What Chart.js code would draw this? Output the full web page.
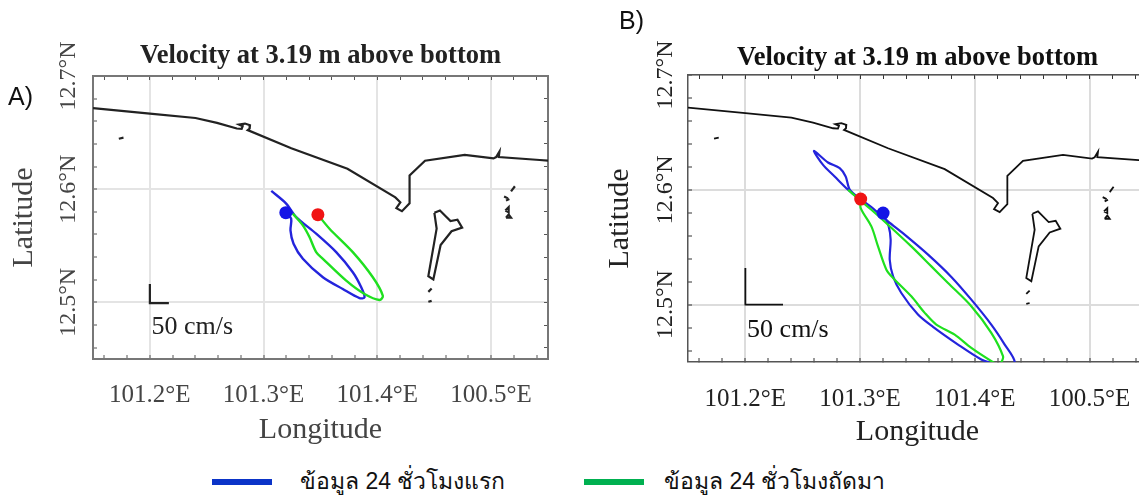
<!DOCTYPE html>
<html>
<head>
<meta charset="utf-8">
<script src="https://cdn.jsdelivr.net/npm/chart.js@4"></script>
<style>
    html, body { margin: 0; padding: 0; background: #fff; width: 1139px; height: 497px; overflow: hidden; }
    canvas { position: absolute; top: 0; }
    #panelA { left: 0; filter: blur(0.7px); }
    #panelB { left: 600px; filter: blur(0.25px); }
    .tag, .key { position: absolute; font-family: "Liberation Sans", Arial, sans-serif; color: #111; white-space: nowrap; }
    .tag { font-size: 25px; line-height: 28px; }
    .key { font-size: 23px; top: 465px; line-height: 32px; }
    .swatch { position: absolute; top: 479px; width: 60px; height: 6px; }
</style>
</head>
<body>
<canvas id="panelA" width="565" height="460"></canvas>
<canvas id="panelB" width="564" height="460"></canvas>
<div class="tag" style="left:8px;top:82px">A)</div>
<div class="tag" style="left:619px;top:6px">B)</div>
<div class="swatch" style="left:212px;background:#0b34c8"></div>
<div class="key" style="left:300px">ข้อมูล 24 ชั่วโมงแรก</div>
<div class="swatch" style="left:584px;background:#00b050"></div>
<div class="key" style="left:664px">ข้อมูล 24 ชั่วโมงถัดมา</div>
<script>
// axes
const lonMin = 101.15, lonMax = 101.55;
const latMin = 12.45, latMax = 12.7;
const lonTicks = [101.2, 101.3, 101.4, 101.5];
const lonTickLabels = ["101.2°E", "101.3°E", "101.4°E", "100.5°E"]; // 100.5 is what the figure prints
const latTicks = [12.5, 12.6, 12.7];
const latTickLabels = ["12.5°N", "12.6°N", "12.7°N"];

// map outline, same in both panels
const coastLon = [101.15, 101.2, 101.2401, 101.259, 101.2764, 101.2807, 101.2816, 101.2784, 101.2836, 101.288, 101.2877, 101.286, 101.3243, 101.3737, 101.4158, 101.4202, 101.4167, 101.4216, 101.4283, 101.4283, 101.4419, 101.4768, 101.5021, 101.5044, 101.5073, 101.5067, 101.5427, 101.55];
const coastLat = [12.6716, 12.6667, 12.6629, 12.6586, 12.6536, 12.6533, 12.6557, 12.6571, 12.658, 12.6565, 12.6536, 12.6522, 12.6362, 12.618, 12.5928, 12.5884, 12.5832, 12.5806, 12.5875, 12.6122, 12.6252, 12.6304, 12.6272, 12.6284, 12.6333, 12.6284, 12.6258, 12.6252];
const islandLon = [101.4501, 101.455, 101.4643, 101.4704, 101.4745, 101.4652, 101.4556, 101.4492, 101.4448, 101.4521, 101.4501];
const islandLat = [12.5791, 12.5812, 12.5719, 12.573, 12.5661, 12.5629, 12.5507, 12.5203, 12.5232, 12.5652, 12.5791];
const speckLons = [[101.1727, 101.1768], [101.4448, 101.4477], [101.4448, 101.4477], [101.5175, 101.5209], [101.5114, 101.5148], [101.5131, 101.516], [101.5125, 101.5154, 101.5154, 101.5125], [101.5131, 101.5175, 101.5154, 101.5131]];
const speckLats = [[12.6446, 12.6455], [12.5093, 12.5122], [12.5006, 12.5014], [12.598, 12.6026], [12.5936, 12.5919], [12.5899, 12.5913], [12.5812, 12.5841, 12.5797, 12.5812], [12.5748, 12.5748, 12.5777, 12.5748]];

// panel A tracks
const blueALon = [101.3195, 101.3242, 101.3236, 101.3263, 101.3345, 101.3521, 101.3696, 101.3843, 101.3887, 101.3858, 101.3784, 101.3638, 101.3462, 101.3286, 101.3198, 101.3067];
const blueALat = [12.5793, 12.574, 12.5636, 12.5518, 12.5385, 12.5222, 12.5118, 12.5038, 12.5044, 12.5133, 12.5266, 12.5444, 12.5607, 12.5754, 12.5873, 12.5985];
const greenALon = [101.3477, 101.3579, 101.3784, 101.396, 101.4048, 101.4019, 101.3887, 101.3726, 101.3521, 101.3462, 101.3403, 101.3345, 101.3257];
const greenALat = [12.5775, 12.5651, 12.5444, 12.5222, 12.5059, 12.5021, 12.5074, 12.5192, 12.5385, 12.5444, 12.5577, 12.568, 12.5784];
const startALon = [101.3195, 101.3477];
const startALat = [12.5793, 12.5775];
const barALon = [101.2, 101.2, 101.2167];
const barALat = [12.5163, 12.4994, 12.4994];

// panel B tracks
const blueBLon = [101.32, 101.3249, 101.3266, 101.3258, 101.3287, 101.3359, 101.3504, 101.3635, 101.3853, 101.4056, 101.4158, 101.426, 101.4347, 101.426, 101.4143, 101.3969, 101.3795, 101.3592, 101.3388, 101.3243, 101.3098, 101.2915, 101.2874, 101.2822, 101.272, 101.2598, 101.2677, 101.2778, 101.2895, 101.2982];
const blueBLat = [12.5797, 12.5681, 12.5565, 12.5391, 12.5246, 12.5101, 12.4913, 12.4806, 12.4652, 12.4522, 12.4487, 12.4449, 12.4499, 12.4652, 12.4826, 12.5043, 12.5241, 12.5435, 12.5609, 12.5725, 12.5849, 12.5994, 12.6116, 12.6188, 12.6238, 12.6339, 12.6217, 12.6116, 12.6, 12.5928];
const greenBLon = [101.3005, 101.3005, 101.3098, 101.3156, 101.3229, 101.3287, 101.3446, 101.3563, 101.3664, 101.3824, 101.3969, 101.4158, 101.4202, 101.4231, 101.4245, 101.4143, 101.3969, 101.3766, 101.3621, 101.3446, 101.3243, 101.3098, 101.2895];
const greenBLat = [12.5919, 12.5841, 12.5681, 12.5507, 12.5304, 12.5232, 12.5072, 12.4928, 12.4826, 12.4739, 12.4623, 12.4499, 12.4478, 12.4499, 12.4551, 12.4754, 12.4986, 12.5188, 12.5333, 12.5507, 12.5696, 12.5826, 12.6];
const startBLon = [101.32, 101.3005];
const startBLat = [12.5797, 12.5919];
const barBLon = [101.2, 101.2, 101.2328];
const barBLat = [12.5319, 12.5, 12.5];

const serif = '"Liberation Serif", "Times New Roman", serif';

function zip(lons, lats) {
    return lons.map((lon, i) => ({ x: lon, y: lats[i] }));
}

// a tick every 0.02 degrees, labels only on the majors
function minorTicks(from, to) {
    const out = [];
    for (let i = Math.ceil(from * 50); i <= Math.floor(to * 50); i++) {
        out.push(+(i / 50).toFixed(2));
    }
    return out;
}

function outline(lons, lats, look) {
    return { data: zip(lons, lats), showLine: true, pointRadius: 0, borderColor: look.ink, borderWidth: look.coastWidth };
}

function track(lons, lats, color, width) {
    return { data: zip(lons, lats), showLine: true, pointRadius: 0, tension: 0.3, borderColor: color, borderWidth: width };
}

function axis(position, majors, ticks, look, size, extra) {
    return Object.assign({
        type: 'linear',
        position: position,
        // fresh tick objects per scale, every scale writes its own labels on them
        afterBuildTicks: scale => { scale.ticks = ticks.map(v => ({ value: v })); },
        afterFit: scale => {
            if (scale.isHorizontal()) scale.height = size; else scale.width = size;
        },
        border: { color: look.frame, width: look.frameWidth },
        grid: {
            color: look.gridColor,
            lineWidth: ctx => (ctx.tick && majors.includes(ctx.tick.value) ? 2 : 0),
            tickColor: look.tick,
            tickWidth: 1,
            tickLength: -4,
        },
        ticks: { display: false, autoSkip: false },
    }, extra);
}

function drawPanel(id, p) {
    const look = p.look;
    const lonAll = minorTicks(lonMin, lonMax);
    const latAll = minorTicks(latMin, latMax);
    const labelFor = (majors, labels) => value => {
        const i = majors.indexOf(value);
        return i < 0 ? '' : labels[i];
    };

    const barLabel = {
        id: 'barLabel',
        afterDatasetsDraw(chart) {
            const c = chart.ctx;
            c.save();
            c.font = '26px ' + serif;
            c.fillStyle = look.ink;
            c.textBaseline = 'middle';
            c.fillText('50 cm/s', chart.scales.x.getPixelForValue(p.barText[0]), chart.scales.y.getPixelForValue(p.barText[1]));
            c.restore();
        },
    };

    new Chart(document.getElementById(id), {
        type: 'scatter',
        data: {
            datasets: [
                {
                    data: zip(p.startLon, p.startLat),
                    pointRadius: 6.5,
                    pointBackgroundColor: ['#1414e6', '#f01414'],
                    pointBorderWidth: 0,
                },
                track(p.greenLon, p.greenLat, '#1fe01f', look.trackWidth),
                track(p.blueLon, p.blueLat, '#2424dc', look.trackWidth),
                outline(coastLon, coastLat, look),
                outline(islandLon, islandLat, look),
                ...speckLons.map((lons, i) => outline(lons, speckLats[i], look)),
                outline(p.barLon, p.barLat, look),
            ],
        },
        options: {
            responsive: false,
            animation: false,
            layout: { padding: { right: 17 } },
            plugins: {
                legend: { display: false },
                tooltip: { enabled: false },
                title: {
                    display: true,
                    text: 'Velocity at 3.19 m above bottom',
                    fullSize: false,
                    color: look.ink,
                    font: { family: serif, size: 26.5, weight: 'bold', lineHeight: 1.2 },
                    padding: p.titlePadding,
                },
            },
            scales: {
                x: axis('bottom', lonTicks, lonAll, look, p.xAxisSize, {
                    min: lonMin, max: lonMax,
                    title: { display: true, text: 'Longitude', color: look.label, padding: p.xTitlePadding, font: { family: serif, size: 30 } },
                    ticks: {
                        autoSkip: false, maxRotation: 0, padding: p.xTickPadding, color: look.label,
                        font: { family: serif, size: 25 },
                        callback: labelFor(lonTicks, lonTickLabels),
                    },
                }),
                y: axis('left', latTicks, latAll, look, p.yAxisSize, {
                    min: latMin, max: latMax,
                    title: { display: true, text: 'Latitude', color: look.label, padding: p.yTitlePadding, font: { family: serif, size: 30 } },
                    ticks: {
                        autoSkip: false, minRotation: 90, maxRotation: 90, crossAlign: 'center', padding: p.yTickPadding, color: look.label,
                        font: { family: serif, size: 24 },
                        callback: labelFor(latTicks, latTickLabels),
                    },
                }),
                xTop: axis('top', lonTicks, lonAll, look, 0, { axis: 'x', min: lonMin, max: lonMax, grid: { drawOnChartArea: false, tickColor: look.tick, tickLength: -4 } }),
                yRight: axis('right', latTicks, latAll, look, 0, { axis: 'y', min: latMin, max: latMax, grid: { drawOnChartArea: false, tickColor: look.tick, tickLength: -4 } }),
            },
        },
        plugins: [barLabel],
    });
}

drawPanel('panelA', {
    look: { ink: '#222', label: '#444', frame: '#777', frameWidth: 2, tick: '#555', gridColor: '#e4e4e4', coastWidth: 2.2, trackWidth: 2.4 },
    blueLon: blueALon, blueLat: blueALat, greenLon: greenALon, greenLat: greenALat,
    startLon: startALon, startLat: startALat, barLon: barALon, barLat: barALat,
    barText: [101.2015, 12.478],
    titlePadding: { top: 40, bottom: 4.2 },
    xAxisSize: 101, yAxisSize: 93,
    xTickPadding: 25, yTickPadding: -6.5,
    xTitlePadding: 12, yTitlePadding: 6,
});

drawPanel('panelB', {
    look: { ink: '#111', label: '#222', frame: '#555', frameWidth: 1.5, tick: '#333', gridColor: '#dcdcdc', coastWidth: 1.8, trackWidth: 2.2 },
    blueLon: blueBLon, blueLat: blueBLat, greenLon: greenBLon, greenLat: greenBLat,
    startLon: startBLon, startLat: startBLat, barLon: barBLon, barLat: barBLat,
    barText: [101.2015, 12.478],
    titlePadding: { top: 42, bottom: 1.2 },
    xAxisSize: 98, yAxisSize: 88,
    xTickPadding: 26, yTickPadding: -8,
    xTitlePadding: 10, yTitlePadding: 2,
});
</script>
</body>
</html>
